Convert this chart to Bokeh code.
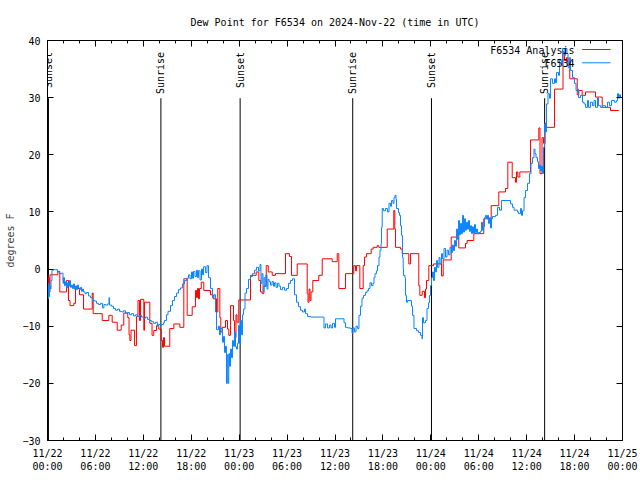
import math
from bokeh.plotting import figure
from bokeh.models import FixedTicker, LinearAxis, Range1d, CustomLabelingPolicy
from bokeh.embed import file_html
from bokeh.resources import INLINE
from bokeh.core.properties import value

FONT = "DejaVu Sans Mono"
FSIZE = "10px"

title_text = "Dew Point for F6534 on 2024-Nov-22 (time in UTC)"
y_label = "degrees F"
series_names = ["F6534 Analysis", "F6534"]
series_colors = ["#ff0000", "#0a84ff"]

x_tick_hours = [0, 6, 12, 18, 24, 30, 36, 42, 48, 54, 60, 66, 72]
x_tick_labels = ["11/22\n00:00", "11/22\n06:00", "11/22\n12:00", "11/22\n18:00",
                 "11/23\n00:00", "11/23\n06:00", "11/23\n12:00", "11/23\n18:00",
                 "11/24\n00:00", "11/24\n06:00", "11/24\n12:00", "11/24\n18:00",
                 "11/25\n00:00"]
x_minor_hours = list(range(0, 73, 2))
y_ticks = [-30, -20, -10, 0, 10, 20, 30, 40]

sunset_hours = [0.12, 24.12, 48.08]
sunrise_hours = [14.2, 38.22, 62.25]

# F6534 Analysis (hours since 11/22 00:00 UTC, deg F)
analysis_hours = [0.00, 0.06, 0.15, 0.23, 0.31, 1.29, 1.54, 2.38, 2.63, 2.82, 3.29, 3.51, 3.69, 4.01, 4.51,
                  5.60, 5.72, 6.85, 7.68, 8.10, 8.73, 9.23, 9.55, 10.05, 10.21, 10.31, 10.46, 10.89, 11.14,
                  11.33, 11.52, 11.65, 12.06, 12.15, 12.81, 13.09, 13.31, 13.65, 13.94, 14.24, 14.40, 14.53,
                  14.65, 15.31, 15.82, 16.57, 17.07, 17.49, 18.12, 18.53, 18.66, 18.78, 18.91, 19.03, 19.25,
                  19.57, 20.41, 20.75, 21.16, 21.32, 21.58, 21.70, 21.88, 22.29, 22.54, 22.70, 22.92, 23.29,
                  23.42, 23.60, 23.73, 23.95, 25.42, 26.13, 26.46, 26.67, 26.89, 27.09, 27.39, 27.64, 28.14,
                  28.55, 29.80, 30.30, 30.55, 31.27, 32.52, 32.62, 32.75, 32.87, 33.00, 33.22, 33.97, 34.40,
                  35.65, 36.28, 36.48, 37.32, 38.35, 38.57, 38.69, 39.11, 39.53, 39.69, 39.94, 40.53, 40.78,
                  41.28, 41.49, 42.54, 43.36, 43.49, 43.58, 44.20, 44.42, 45.24, 45.45, 46.49, 46.62, 46.92,
                  47.21, 47.33, 47.46, 47.75, 48.34, 49.34, 49.55, 50.55, 51.30, 51.50, 52.34, 52.55, 53.38,
                  54.63, 55.56, 56.51, 57.35, 57.64, 58.19, 58.60, 58.73, 58.89, 59.14, 60.48, 61.52, 61.67,
                  61.92, 62.11, 62.30, 62.42, 63.49, 64.55, 64.74, 64.99, 65.18, 65.40, 66.33, 66.53, 66.95,
                  67.37, 68.62, 69.46, 70.50, 71.54]
analysis_dewpt = [-1.0, -4.3, -1.5, -4.0, -1.0, -0.4, -4.0, -2.0, -5.5, -6.4, -6.0, -3.0, -3.4, -4.5, -7.0,
                  -4.2, -7.8, -9.0, -8.1, -9.3, -10.7, -9.8, -7.7, -8.5, -11.5, -12.5, -10.7, -13.4, -8.3,
                  -5.5, -9.0, -5.3, -10.7, -5.8, -9.5, -11.6, -10.75, -9.9, -10.5, -12.5, -13.7, -12.0,
                  -13.5, -10.4, -9.6, -10.2, -1.7, -8.1, -6.6, -3.75, -5.0, -3.4, -5.2, -3.4, -2.3,
                  -3.75, -4.5, -5.2, -7.5, -3.4, -8.5, -11.0, -10.2, -9.0, -10.5, -11.6, -6.4, -9.0,
                  -12.0, -8.0, -9.3, -5.4, -1.1, -0.5, -2.0, -4.0, -4.3, -3.0, 0.6, -0.5, -1.1,
                  -0.8, 2.7, 2.2, -1.1, 0.9, -4.3, -5.8, -3.5, -5.5, -4.0, -2.0, -1.1, 1.8,
                  1.3, 2.7, -3.4, -0.8, 0.6, -0.3, 0.6, -3.4, 0.6, 2.1, 2.7, 3.5, 3.8,
                  4.1, 3.8, 7.0, 10.25, 7.0, 3.8, 3.5, 2.7, 0.9, 2.7, -2.9, -4.6, -3.9,
                  -5.0, -3.5, -2.0, 0.6, 0.9, -1.2, 1.6, 5.6, 6.3, 3.7, 4.5, 5.0, 6.2,
                  8.8, 11.1, 13.5, 14.1, 18.7, 16.0, 15.2, 17.0, 16.1, 17.0, 22.6, 24.7, 16.7,
                  23.0, 22.0, 25.5, 24.8, 31.5, 38.0, 36.5, 37.0, 35.6, 33.3, 30.5, 31.25, 30.4,
                  31.0, 30.1, 28.3, 27.75, 27.75]

# F6534 observations (hours since 11/22 00:00 UTC, deg F)
obs_hours = [0.00, 0.06, 0.13, 0.19, 0.25, 0.38, 0.44, 0.56, 0.75, 1.00, 1.25, 1.50, 1.75, 1.94, 2.00,
             2.13, 2.25, 2.38, 2.50, 2.63, 2.75, 2.88, 3.01, 3.13, 3.26, 3.38, 3.51, 3.63, 3.76, 3.88,
             4.01, 4.13, 4.26, 4.38, 4.51, 4.70, 4.88, 5.13, 5.38, 5.63, 5.89, 6.14, 6.39, 6.64, 6.89,
             7.07, 7.26, 7.51, 7.70, 7.76, 8.01, 8.26, 8.51, 8.77, 9.02, 9.27, 9.52, 9.77, 10.02, 10.27,
             10.52, 10.77, 11.02, 11.27, 11.52, 11.77, 12.02, 12.27, 12.52, 12.77, 13.02, 13.27, 13.52,
             13.77, 13.90, 14.15, 14.28, 14.53, 14.65, 14.90, 15.09, 15.40, 15.65, 15.90, 16.15, 16.40,
             16.65, 16.90, 17.16, 17.41, 17.66, 17.84, 18.03, 18.16, 18.28, 18.47, 18.66, 18.78, 18.91,
             19.10, 19.28, 19.41, 19.53, 19.78, 19.97, 20.16, 20.41, 20.66, 20.85, 21.04, 21.16, 21.41,
             21.54, 21.66, 21.91, 22.04, 22.16, 22.29, 22.41, 22.51, 22.60, 22.70, 22.79, 22.92, 23.04,
             23.17, 23.29, 23.42, 23.54, 23.67, 23.79, 23.92, 24.04, 24.17, 24.29, 24.42, 24.54, 24.73,
             24.92, 25.17, 25.42, 25.67, 25.92, 26.17, 26.42, 26.61, 26.73, 26.86, 26.98, 27.11, 27.23,
             27.36, 27.49, 27.61, 27.74, 27.92, 28.11, 28.30, 28.43, 28.61, 28.80, 28.99, 29.18, 29.43,
             29.68, 29.93, 30.18, 30.43, 30.68, 30.93, 31.18, 31.43, 31.68, 31.93, 32.18, 32.31, 32.56,
             32.93, 34.56, 34.62, 34.81, 35.06, 35.31, 35.50, 35.69, 35.94, 36.06, 37.13, 37.32, 37.57,
             37.94, 38.13, 38.26, 38.44, 38.63, 38.82, 39.00, 39.19, 39.38, 39.57, 39.82, 40.01, 40.20,
             40.38, 40.57, 40.76, 40.88, 41.01, 41.20, 41.32, 41.51, 41.63, 41.76, 41.82, 41.91, 42.07,
             42.32, 42.57, 42.76, 42.95, 43.08, 43.26, 43.39, 43.51, 43.64, 43.70, 43.95, 44.08, 44.20,
             44.33, 44.45, 44.54, 44.58, 44.77, 44.83, 44.95, 45.08, 45.52, 45.58, 45.71, 45.89, 46.21,
             46.46, 46.71, 46.89, 46.96, 47.08, 47.33, 47.52, 47.71, 47.83, 47.96, 48.08, 48.21, 48.33,
             48.46, 48.58, 48.71, 48.83, 49.02, 49.15, 49.34, 49.46, 49.65, 49.84, 50.03, 50.21, 50.40,
             50.59, 50.71, 50.84, 50.96, 51.09, 51.22, 51.34, 51.47, 51.59, 51.72, 51.84, 51.97, 52.09,
             52.22, 52.34, 52.47, 52.59, 52.72, 52.84, 52.97, 53.09, 53.22, 53.34, 53.47, 53.59, 53.72,
             53.84, 53.97, 54.22, 54.35, 54.47, 54.60, 54.72, 54.85, 54.97, 55.10, 55.22, 55.35, 55.47,
             55.60, 55.72, 56.10, 56.35, 56.60, 56.85, 57.98, 58.23, 58.42, 58.85, 58.98, 59.23, 59.35,
             59.48, 59.67, 59.86, 60.11, 60.36, 60.54, 60.73, 60.92, 61.04, 61.17, 61.36, 61.48, 61.61,
             61.73, 61.86, 61.98, 62.11, 62.23, 62.36, 62.48, 62.67, 62.86, 62.98, 63.23, 63.49, 63.61,
             63.74, 63.99, 64.11, 64.36, 64.49, 64.68, 64.86, 65.05, 65.18, 65.36, 65.49, 65.74, 65.99,
             66.18, 66.37, 66.49, 66.74, 66.99, 67.18, 67.37, 67.62, 67.74, 67.99, 68.24, 68.43, 68.62,
             68.87, 68.99, 69.25, 69.50, 69.87, 70.12, 70.37, 70.62, 70.99, 71.24, 71.37, 71.50, 71.62,
             71.75]
obs_dewpt = [-3.0, -5.2, -2.5, -4.8, -3.0, -3.5, -2.0, -0.2, -0.1, -0.1, -0.5, -0.8, -0.7, -2.5, -1.5,
             -2.9, -2.2, -3.3, -2.4, -3.0, -2.0, -3.2, -2.8, -3.4, -2.6, -3.5, -3.0, -3.6, -2.8, -3.3,
             -3.6, -3.2, -3.9, -3.5, -4.0, -4.3, -4.1, -4.7, -5.0, -5.5, -5.6, -6.0, -6.2, -6.0, -6.8,
             -6.2, -6.3, -6.1, -5.0, -6.3, -6.5, -6.9, -7.2, -7.0, -7.4, -7.5, -7.3, -7.7, -7.6, -8.0,
             -7.8, -8.2, -8.0, -8.3, -8.1, -8.4, -8.6, -8.4, -8.8, -9.0, -9.2, -9.5, -9.3,
             -10.0, -9.7, -9.9, -9.7, -9.4, -9.0, -8.0, -7.4, -6.4, -5.5, -4.8, -4.2, -3.6,
             -3.3, -2.6, -2.0, -1.6, -1.0, -1.7, -0.5, -1.6, -0.4, -1.3, -0.2, -1.5, -0.3,
             -1.9, 0.0, -1.0, 0.4, -0.6, 0.6, -1.5, -3.4, -5.0, -4.5, -7.5, -10.6, -10.0,
             -11.5, -10.4, -12.8, -11.8, -14.6, -13.5, -20.0, -15.0, -20.0, -14.8, -17.0, -14.0, -15.5,
             -12.5, -13.5, -11.0, -13.6, -14.0, -13.0, -9.9, -13.0, -9.0, -11.5, -8.0, -7.0, -4.2,
             -3.4, -1.8, -1.3, -0.8, -0.2, 0.3, -0.3, 0.8, -2.5, -0.8, -4.0, -1.5, -3.0,
             -1.0, -3.5, -1.8, -2.2, -2.8, -2.2, -3.0, -2.4, -3.2, -2.5, -3.0, -3.6, -3.2,
             -3.7, -3.4, -2.5, -2.0, -1.7, -4.5, -5.8, -6.6, -7.2, -7.5, -7.0, -7.8, -8.3,
             -8.4, -8.4, -10.3, -9.6, -10.3, -9.8, -10.3, -9.5, -10.2, -8.7, -9.4, -10.2, -10.3,
             -10.4, -11.2, -10.3, -11.0, -10.0, -10.4, -8.1, -6.5, -5.1, -4.6, -4.1, -3.8, -3.4,
             -2.4, -2.9, -2.5, -1.5, -0.8, -0.3, 0.6, 2.1, 3.3, 4.5, 7.3, 10.6, 10.2,
             10.6, 10.0, 11.5, 11.0, 12.0, 11.5, 12.5, 12.9, 12.2, 10.6, 9.9, 9.4, 7.6,
             5.9, 2.0, 0.1, -1.1, -1.6, -4.6, -5.8, -5.5, -5.5, -6.5, -8.1, -10.4, -10.8,
             -11.1, -11.6, -12.2, -8.5, -9.4, -9.0, -6.9, -5.9, -4.6, -2.9, -1.5, -0.5, -2.0,
             0.3, -0.5, 1.5, 0.3, 2.0, 0.9, 2.7, 1.8, 3.6, 2.1, 3.3, 2.5, 3.8,
             2.9, 4.2, 3.25, 5.0, 4.0, 7.0, 5.2, 8.5, 6.0, 8.0, 6.2, 9.4, 6.5,
             8.8, 6.8, 8.2, 7.0, 8.5, 6.6, 7.6, 6.2, 7.4, 6.3, 7.8, 6.4, 7.0,
             6.2, 6.4, 6.6, 8.2, 6.8, 7.4, 9.0, 9.4, 8.8, 9.4, 8.0, 9.0, 7.2,
             8.8, 9.2, 9.4, 10.8, 10.3, 12.0, 11.4, 10.8, 10.3, 10.0, 9.7, 10.6, 9.4,
             10.2, 12.5, 13.75, 15.0, 16.7, 18.5, 19.5, 21.0, 20.2, 19.5, 18.8, 17.6, 18.2,
             17.2, 18.0, 16.7, 21.3, 25.4, 24.0, 28.9, 30.7, 29.9, 33.3, 32.5, 33.3, 32.6,
             34.4, 33.9, 36.5, 35.6, 38.6, 37.4, 38.6, 37.7, 35.3, 37.0, 34.75, 33.5, 32.5,
             31.25, 31.5, 30.0, 30.4, 29.2, 28.9, 28.3, 29.5, 28.3, 29.2, 28.6, 29.5, 28.3,
             30.0, 28.6, 28.3, 28.6, 28.3, 29.2, 28.6, 29.5, 29.2, 29.5, 30.7, 29.9, 30.5,
             30.0]

p = figure(frame_width=575, frame_height=400,
           x_range=Range1d(0, 72), y_range=Range1d(-30, 40),
           output_backend="svg", toolbar_location=None,
           min_border_left=47, min_border_right=18, min_border_top=40, min_border_bottom=0,
           background_fill_color="white", border_fill_color="white")

p.title.text = title_text
p.title.align = "center"
p.title.text_font = FONT
p.title.text_font_size = FSIZE
p.title.text_font_style = "normal"
p.title.text_color = "black"
p.title.standoff = 18

p.xgrid.visible = False
p.ygrid.visible = False
p.outline_line_color = "black"
p.outline_line_width = 1

xticker = FixedTicker(ticks=x_tick_hours, minor_ticks=x_minor_hours)
yticker = FixedTicker(ticks=y_ticks, minor_ticks=[])
no_labels = CustomLabelingPolicy(code="""
for (const i of indices) { indices.unset(i) }
return indices
""")


def style_axis(ax, show_labels):
    ax.axis_line_color = "black"
    ax.major_tick_line_color = "black"
    ax.minor_tick_line_color = "black"
    ax.major_tick_in = 6
    ax.major_tick_out = 0
    ax.minor_tick_in = 3
    ax.minor_tick_out = 0
    ax.major_label_text_font = FONT
    ax.major_label_text_color = "black"
    if show_labels:
        ax.major_label_text_font_size = FSIZE
    else:
        ax.major_label_text_font_size = "1px"
        ax.major_label_standoff = 0
        ax.major_label_policy = no_labels


xax = p.xaxis[0]
xax.ticker = xticker
xax.major_label_overrides = dict(zip(x_tick_hours, x_tick_labels))
style_axis(xax, True)
xax.major_label_standoff = 7

yax = p.yaxis[0]
yax.ticker = yticker
style_axis(yax, True)
yax.minor_tick_line_color = None
yax.major_label_standoff = 7
yax.axis_label = y_label
yax.axis_label_text_font = FONT
yax.axis_label_text_font_size = FSIZE
yax.axis_label_text_font_style = "normal"
yax.axis_label_standoff = 3

top = LinearAxis(ticker=xticker)
style_axis(top, False)
p.add_layout(top, "above")

right = LinearAxis(ticker=yticker)
style_axis(right, False)
right.minor_tick_line_color = None
p.add_layout(right, "right")

# sunrise / sunset markers
sun_hours = sunset_hours + sunrise_hours
sun_text = ["Sunset"] * len(sunset_hours) + ["Sunrise"] * len(sunrise_hours)
p.segment(x0=sun_hours, y0=[-30] * len(sun_hours), x1=sun_hours, y1=[29.9] * len(sun_hours),
          line_color="black", line_width=1)
p.text(x=sun_hours, y=[38.0] * len(sun_hours), text=sun_text, angle=math.pi / 2,
       text_align="right", text_baseline="middle", text_font=value(FONT),
       text_font_size=FSIZE, text_color="black")

# series
p.step(x=analysis_hours, y=analysis_dewpt, mode="after", line_color=series_colors[0], line_width=1)
p.step(x=obs_hours, y=obs_dewpt, mode="after", line_color=series_colors[1], line_width=1)

# gnuplot-style key (text left of sample line)
key_text_x = 65.99
key_text_y = [38.3, 36.0]
key_line_y = [38.42, 36.1]
p.text(x=[key_text_x] * 2, y=key_text_y, text=series_names, text_align="right", text_baseline="middle",
       text_font=value(FONT), text_font_size=FSIZE, text_color="black")
for ly, col in zip(key_line_y, series_colors):
    p.segment(x0=[66.95], y0=[ly], x1=[70.5], y1=[ly], line_color=col, line_width=1)

open("out.html", "w").write(file_html(p, INLINE))
